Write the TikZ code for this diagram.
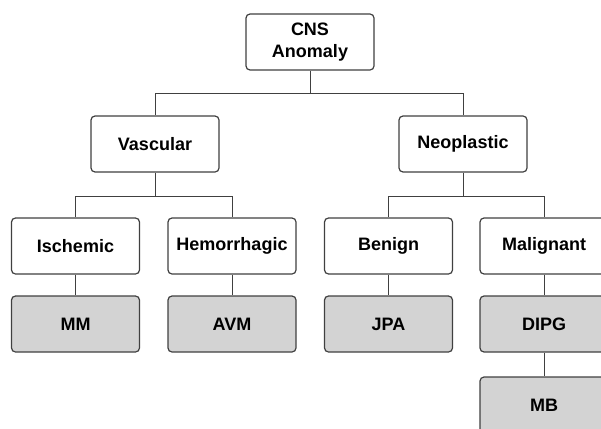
\documentclass[tikz,border=0pt]{standalone}
\usepackage{fontspec}
\setmainfont{Liberation Sans}
\usepackage{tikz}
\usetikzlibrary{positioning}

\definecolor{edgegray}{HTML}{404040}
\definecolor{leafgray}{HTML}{D3D3D3}

\begin{document}
\begin{tikzpicture}[x=1pt,y=-1pt,
  box/.style={draw=edgegray,line width=1.2pt,rounded corners=4pt,fill=white,
    minimum width=128pt,minimum height=56pt,align=center,
    font=\fontsize{18}{21.5}\selectfont\bfseries},
  leaf/.style={box,fill=leafgray},
  link/.style={draw=edgegray,line width=1pt}]
\useasboundingbox (0,0) rectangle (601,428);
\clip (0,0) rectangle (601,428);
% level 1 and 2
\node[box] (cns) at (310,42) {CNS\\Anomaly};
\node[box] (vasc) at (155,144) {Vascular};
\node[box] (neo) at (463,144) {Neoplastic};
% level 3
\node[box] (isch) at (75.5,246) {Ischemic};
\node[box] (hemo) at (232,246) {Hemorrhagic};
\node[box] (ben) at (388.5,246) {Benign};
\node[box] (mal) at (544,246) {Malignant};
% leaves
\node[leaf] (mm) at (75.5,324) {MM};
\node[leaf] (avm) at (232,324) {AVM};
\node[leaf] (jpa) at (388.5,324) {JPA};
\node[leaf] (dipg) at (544,324) {DIPG};
\node[leaf] (mb) at (544,405) {MB};
% connectors
\draw[link] (cns.south) -- ++(0,23) -| (vasc.north);
\draw[link] (cns.south) ++(0,23) -| (neo.north);
\foreach \p/\a/\b in {vasc/isch/hemo,neo/ben/mal}{
\draw[link] (\p.south) -- ++(0,24) -| (\a.north);
\draw[link] (\p.south) ++(0,24) -| (\b.north);};
\foreach \x/\y in {isch/mm,hemo/avm,ben/jpa,mal/dipg,dipg/mb}{
\draw[link] (\x.south) -- (\y.north);};
\end{tikzpicture}
\end{document}
